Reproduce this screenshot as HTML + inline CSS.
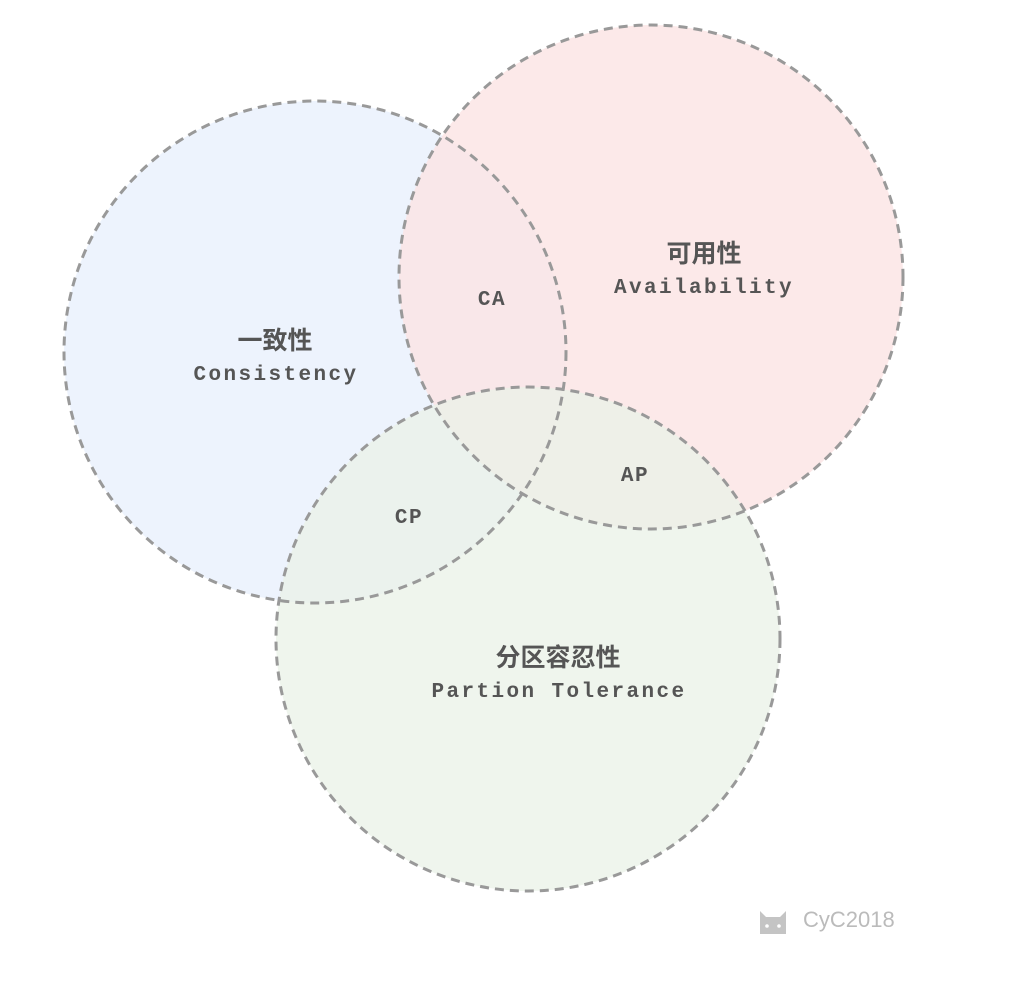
<!DOCTYPE html>
<html><head><meta charset="utf-8"><style>
html,body{margin:0;padding:0;background:#fff;}
svg{display:block}
</style></head><body>
<svg width="1030" height="994" viewBox="0 0 1030 994" xmlns="http://www.w3.org/2000/svg">
<circle cx="315" cy="352" r="251" fill="#edf3fd"/>
<circle cx="651" cy="277" r="252" fill="#fbe3e3" fill-opacity="0.8"/>
<circle cx="528" cy="639" r="252" fill="#e9f1e7" fill-opacity="0.75"/>
<g fill="none" stroke="#999" stroke-width="3" stroke-dasharray="9 6">
<circle cx="315" cy="352" r="251"/>
<circle cx="651" cy="277" r="252"/>
<circle cx="528" cy="639" r="252"/>
</g>
<g fill="#555" font-family="'Liberation Mono','Noto Sans CJK SC',monospace" font-weight="bold" text-anchor="middle">
<g font-family="'Liberation Sans','Noto Sans CJK SC',sans-serif" font-size="25" font-weight="bold">
<text x="275" y="349">一致性</text>
<text x="704" y="262">可用性</text>
<text x="558" y="666">分区容忍性</text>
</g>
<g font-size="21" letter-spacing="2.4">
<text x="276" y="380">Consistency</text>
<text x="704" y="293">Availability</text>
<text x="559" y="697">Partion Tolerance</text>
</g>
<g font-size="21" letter-spacing="1.5">
<text x="492" y="305">CA</text>
<text x="635" y="481">AP</text>
<text x="409" y="523">CP</text>
</g>
</g>
<g fill="#c4c4c4">
<path d="M760 934 L760 911 L766 917 L780 917 L786 911 L786 934 Z"/>
<circle cx="767" cy="926" r="1.8" fill="#fff"/><circle cx="779" cy="926" r="1.8" fill="#fff"/>
<text x="803" y="927" font-family="'Liberation Sans',sans-serif" font-size="22" fill="#bbb">CyC2018</text>
</g>
</svg>
</body></html>
